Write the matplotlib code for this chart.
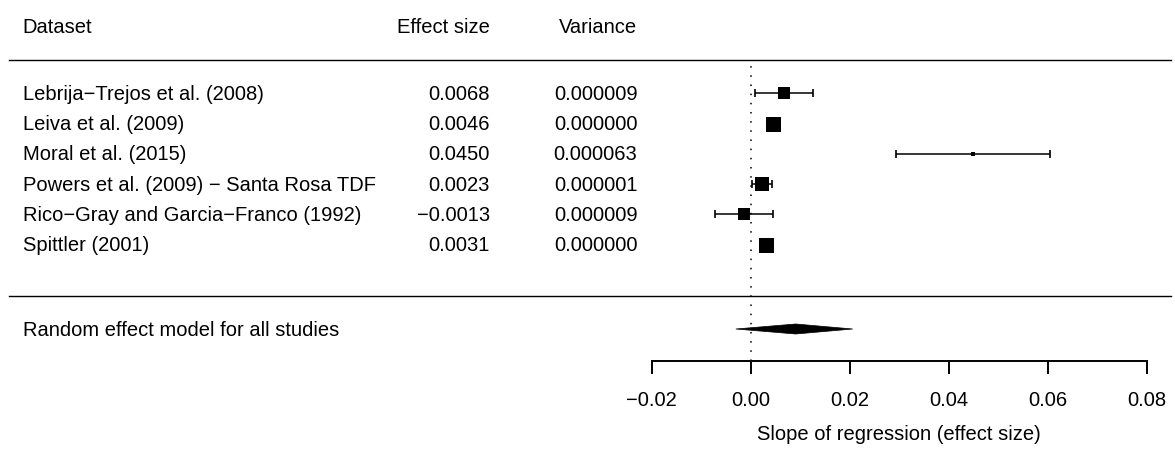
import numpy as np
import matplotlib
matplotlib.use('Agg')
import matplotlib.pyplot as plt
from matplotlib.patches import Polygon

plt.rcParams['font.family'] = ['Liberation Sans', 'DejaVu Sans']

# data
studies = ['Lebrija\u2212Trejos et al. (2008)',
           'Leiva et al. (2009)',
           'Moral et al. (2015)',
           'Powers et al. (2009) \u2212 Santa Rosa TDF',
           'Rico\u2212Gray and Garcia\u2212Franco (1992)',
           'Spittler (2001)']
effect = np.array([0.0068, 0.0046, 0.0450, 0.0023, -0.0013, 0.0031])
variance = np.array([0.000009, 0.0, 0.000063, 0.000001, 0.000009, 0.0])
tau2 = 1.0e-4  # between-study variance (estimated), used for square weights

re_label = 'Random effect model for all studies'
re_est, re_lo, re_hi = 0.0091, -0.0030, 0.0206

tick_vals = [-0.02, 0.00, 0.02, 0.04, 0.06, 0.08]
xlab = 'Slope of regression (effect size)'

# layout helpers: pixel -> data / row units
def px2v(px):
    return (px - 750.7) / 4950.0

def py2r(py):
    return 1 + (244.8 - py) / 30.3

fs = 14.5
toff = -1.0 / 30.3  # nudge text down a pixel
fig = plt.figure(figsize=(11.75, 4.5), dpi=100)
ax = fig.add_axes([0, 0, 1, 1])
ax.set_xlim(px2v(0), px2v(1175))
ax.set_ylim(py2r(450), py2r(0))

rows = np.arange(len(studies), 0, -1)
ci = 1.96 * np.sqrt(variance)

# weights -> square size (metafor style, cex 0.5..1.5)
w = 1.0 / (variance + tau2)
frac = (w - w.min()) / (w.max() - w.min())
side_px = 15.0 * (0.5 + frac) / 1.5

# reference line at zero
ax.plot([0, 0], [py2r(361), py2r(63)], color='black', lw=1.1,
        linestyle=(0, (1, 5)), zorder=1)

# confidence intervals and squares
ax.errorbar(effect, rows, xerr=ci, fmt='none', ecolor='black', elinewidth=1.1,
            capsize=3, capthick=1.2, zorder=2)
for x, y, s in zip(effect, rows, side_px):
    ax.plot(x, y, marker='s', ms=s * 0.72, color='black', mew=0, zorder=3)

# summary diamond
re_y = py2r(329)
dh = 5.0 / 30.3
ax.add_patch(Polygon([[re_lo, re_y], [re_est, re_y + dh], [re_hi, re_y], [re_est, re_y - dh]],
                     closed=True, facecolor='black', edgecolor='black', lw=0.5, zorder=3))

# horizontal rules
for ry in [py2r(60), py2r(295.7)]:
    ax.plot([px2v(9), px2v(1171)], [ry, ry], color='black', lw=1.0, zorder=2)

# text columns
lab_x, eff_x, var_x = px2v(22.7), px2v(490), px2v(637.5)
hy = py2r(26.7) + toff
ax.text(lab_x, hy, 'Dataset', ha='left', va='center', fontsize=fs)
ax.text(eff_x, hy, 'Effect size', ha='right', va='center', fontsize=fs)
ax.text(var_x, hy, 'Variance', ha='right', va='center', fontsize=fs)
for name, e, v, y in zip(studies, effect, variance, rows):
    ax.text(lab_x, y + toff, name, ha='left', va='center', fontsize=fs)
    ax.text(eff_x, y + toff, f'{e:.4f}'.replace('-', '\u2212'), ha='right', va='center', fontsize=fs)
    ax.text(var_x, y + toff, f'{v:.6f}', ha='right', va='center', fontsize=fs)
ax.text(lab_x, re_y + toff, re_label, ha='left', va='center', fontsize=fs)

# bottom axis
for s in ['top', 'left', 'right']:
    ax.spines[s].set_visible(False)
ax.spines['bottom'].set_position(('data', py2r(361)))
ax.spines['bottom'].set_bounds(tick_vals[0], tick_vals[-1])
ax.spines['bottom'].set_linewidth(1.4)
ax.set_xticks(tick_vals)
ax.set_xticklabels([f'{t:.2f}'.replace('-', '\u2212') for t in tick_vals])
ax.tick_params(axis='x', direction='out', length=9.4, width=1.4, pad=12, labelsize=fs)
ax.set_yticks([])
ax.text(np.mean([tick_vals[0], tick_vals[-1]]), py2r(434), xlab,
        ha='center', va='center', fontsize=fs)

fig.savefig('out.png', dpi=100)
